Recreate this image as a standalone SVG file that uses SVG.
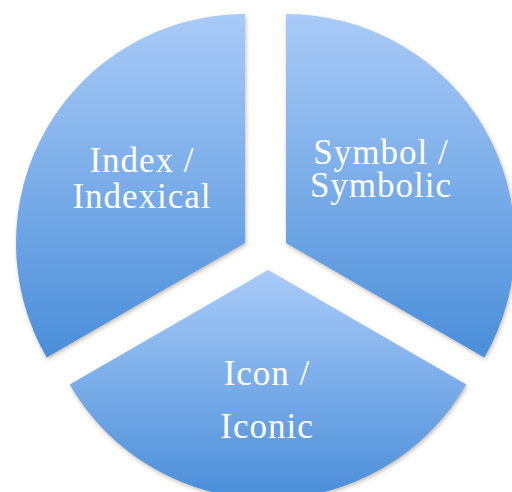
<svg xmlns="http://www.w3.org/2000/svg" width="512" height="492" viewBox="0 0 512 492">
  <defs>
    <linearGradient id="g" x1="0" y1="0" x2="0" y2="1">
      <stop offset="0" stop-color="#a9cbf8"/>
      <stop offset="1" stop-color="#4a8ed9"/>
    </linearGradient>
    <filter id="sh" x="-10%" y="-10%" width="120%" height="120%">
      <feDropShadow dx="1" dy="2" stdDeviation="2.2" flood-color="#6a5a40" flood-opacity="0.4"/>
    </filter>
  </defs>
  <style>
    .w { fill: url(#g); filter: url(#sh); }
    .t { font-family: "Liberation Serif", "Times New Roman", serif; font-size: 35px; letter-spacing: 1px; fill: #ffffff; text-anchor: middle; }
  </style>
  <rect width="512" height="492" fill="#ffffff"/>
  <g id="index">
    <path class="w" d="M245,14 L245,243 L46.7,357.5 A229,229 0 0 1 245,14 Z"/>
    <text class="t" x="142" y="172">Index /</text>
    <text class="t" x="142" y="208">Indexical</text>
  </g>
  <g id="symbol">
    <path class="w" d="M286,14 A229,229 0 0 1 484.3,357.5 L286,243 Z"/>
    <text class="t" x="381" y="164">Symbol /</text>
    <text class="t" x="381" y="197">Symbolic</text>
  </g>
  <g id="icon">
    <path class="w" d="M268,270 L466.3,384.5 A229,229 0 0 1 69.7,384.5 Z"/>
    <text class="t" x="267" y="385">Icon /</text>
    <text class="t" x="267" y="438">Iconic</text>
  </g>
  <g id="connectors"/>
</svg>
